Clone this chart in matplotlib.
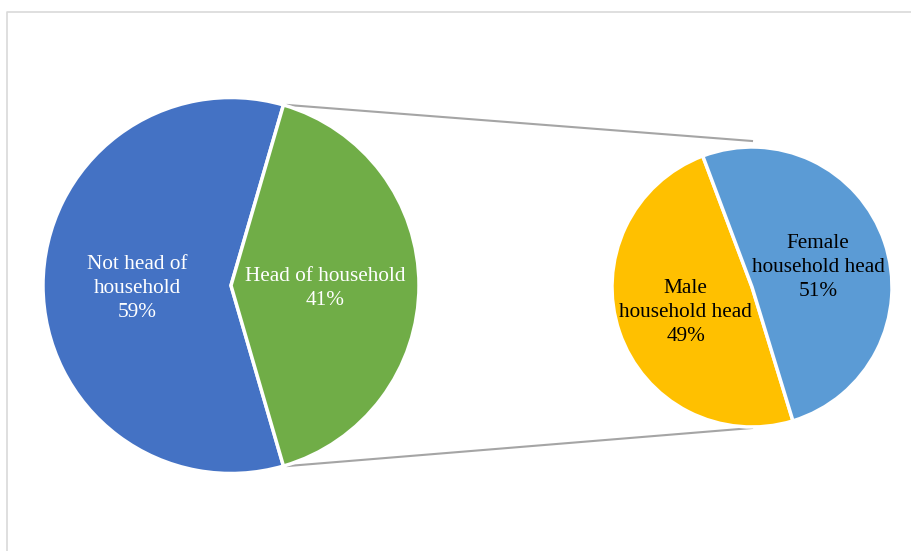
import numpy as np
import matplotlib.pyplot as plt

# data
main_labels = ["Not head of\nhousehold", "Head of household"]
main_values = [59, 41]
main_colors = ["#4472C4", "#70AD47"]

sub_labels = ["Male\nhousehold head", "Female\nhousehold head"]
sub_values = [49, 51]
sub_colors = ["#FFC000", "#5B9BD5"]

plt.rcParams['font.family'] = ['Liberation Serif', 'DejaVu Serif']

fig = plt.figure(figsize=(9.11, 5.51), dpi=100)
ax = fig.add_axes([0, 0, 1, 1])
ax.set_xlim(0, 911)
ax.set_ylim(0, 551)
ax.set_aspect('equal')
ax.axis('off')

# chart border
ax.plot([7, 7, 911], [0, 539, 539], color='#d9d9d9', lw=1.2)

c1, r1 = (231, 265.5), 188
c2, r2 = (752, 264), 140

start1 = main_values[1] / 100 * 180
w1, _ = ax.pie(main_values, colors=main_colors, startangle=start1, center=c1, radius=r1,
               wedgeprops=dict(edgecolor='white', linewidth=2.5), frame=True)
w2, _ = ax.pie(sub_values, colors=sub_colors, startangle=110.6, center=c2, radius=r2,
               wedgeprops=dict(edgecolor='white', linewidth=2.5), frame=True)
ax.set_xlim(0, 911)
ax.set_ylim(0, 551)
ax.axis('off')


def put_labels(wedges, labels, values, center, radius, color):
    for w, lab, v in zip(wedges, labels, values):
        mid = np.deg2rad((w.theta1 + w.theta2) / 2)
        x = center[0] + 0.5 * radius * np.cos(mid)
        y = center[1] + 0.5 * radius * np.sin(mid) - 3
        ax.text(x, y, f"{lab}\n{v}%", ha='center', va='center', color=color,
                fontsize=15.3, linespacing=1.38)


put_labels(w1, main_labels, main_values, c1, r1, 'white')
put_labels(w2, sub_labels, sub_values, c2, r2, 'black')

# connector lines from the split-off wedge to the second pie
g = w1[1]
for ang, ty in [(g.theta2, c2[1] + r2 + 6), (g.theta1, c2[1] - r2 - 1)]:
    a = np.deg2rad(ang)
    x0 = c1[0] + r1 * np.cos(a) + 4
    y0 = c1[1] + r1 * np.sin(a)
    ax.plot([x0, c2[0]], [y0, ty], color='#a5a5a5', lw=1.5, zorder=0)

fig.savefig('out.png', dpi=100)
